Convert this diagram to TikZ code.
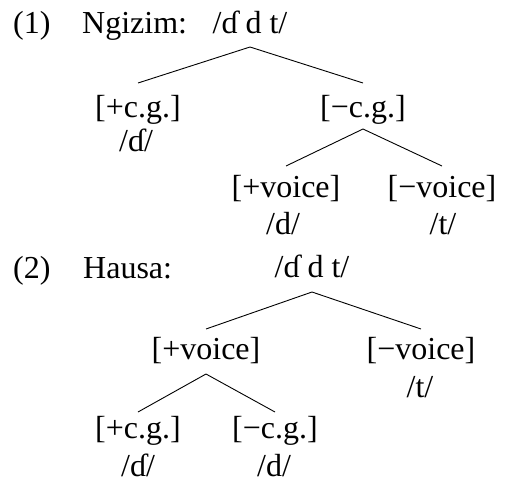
\documentclass[tikz,border=0pt]{standalone}
\usepackage{fontspec}
\setmainfont{Liberation Serif}
\begin{document}
\begin{tikzpicture}[x=1pt,y=-1pt,
  lbl/.style={anchor=base,inner sep=0pt,font=\fontsize{32}{38}\selectfont},
  lblw/.style={lbl,anchor=base west},
  br/.style={line width=0.9pt}]
\useasboundingbox (0,0) rectangle (506,482);
% (1)
\node[lblw] (n1) at (13,33) {(1)};
\node[lblw] (ng) at (82,33) {Ngizim:};
\node[lbl] (r1) at (250,33) {/ɗ d t/};
\node[lbl] (a1) at (138,117) {[+c.g.]};
\node[lbl] (a1p) at (136,151) {/ɗ/};
\node[lbl] (b1) at (363,117) {[−c.g.]};
\node[lbl] (c1) at (286,197) {[+voice]};
\node[lbl] (c1p) at (283,234) {/d/};
\node[lbl] (d1) at (442,197) {[−voice]};
\node[lbl] (d1p) at (443,234) {/t/};
\draw[br] ([yshift=-14pt]r1.base) -- ([yshift=34pt]a1.base);
\draw[br] ([yshift=-14pt]r1.base) -- ([yshift=34pt]b1.base);
\draw[br] ([yshift=-12pt]b1.base) -- ([yshift=31pt]c1.base);
\draw[br] ([yshift=-12pt]b1.base) -- ([yshift=31pt]d1.base);
% (2)
\node[lblw] (n2) at (13,278) {(2)};
\node[lblw] (ha) at (83,278) {Hausa:};
\node[lbl] (r2) at (312,277) {/ɗ d t/};
\node[lbl] (e2) at (206,359) {[+voice]};
\node[lbl] (f2) at (421,359) {[−voice]};
\node[lbl] (f2p) at (420,397) {/t/};
\node[lbl] (g2) at (138,438) {[+c.g.]};
\node[lbl] (g2p) at (138,476) {/ɗ/};
\node[lbl] (h2) at (275,438) {[−c.g.]};
\node[lbl] (h2p) at (274,476) {/d/};
\draw[br] ([yshift=-15pt]r2.base) -- ([yshift=30pt]e2.base);
\draw[br] ([yshift=-15pt]r2.base) -- ([yshift=30pt]f2.base);
\draw[br] ([yshift=-15pt]e2.base) -- ([yshift=26pt]g2.base);
\draw[br] ([yshift=-15pt]e2.base) -- ([yshift=26pt]h2.base);
\end{tikzpicture}
\end{document}
